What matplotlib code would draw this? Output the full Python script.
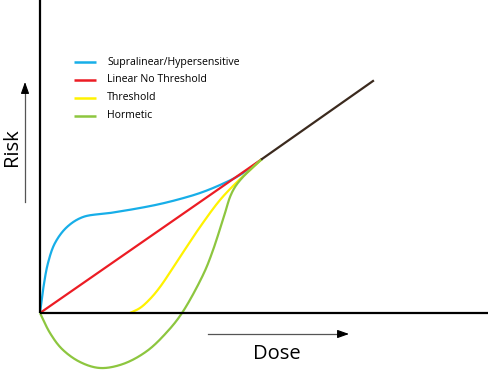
import numpy as np
import matplotlib
matplotlib.use("Agg")
import matplotlib.pyplot as plt

# Data (dose, risk), origin at the axes corner
supralinear_x = [0, 3, 8, 15, 27, 43, 70, 100, 120, 140, 160, 180, 200, 222]
supralinear_y = [0, 23, 50, 70, 86, 96, 100, 105, 109, 114, 120, 128, 138, 154]

lnt_x = [0, 222]
lnt_y = [0, 154]

threshold_x = [90, 100, 110, 120, 140, 160, 180, 197, 210, 222]
threshold_y = [0, 5, 14, 26, 56, 86, 113, 131, 143, 154]

hormetic_x = [0, 10, 22, 40, 60, 83, 107, 127, 142, 163, 172, 185, 190, 195, 202, 210, 222]
hormetic_y = [0, -20, -36, -49, -55, -51, -38, -19, 0, 38, 60, 100, 116, 126, 135, 143, 154]

common_x = [222, 333]
common_y = [154, 232]

labels = ["Supralinear/Hypersensitive", "Linear No Threshold", "Threshold", "Hormetic"]
colors = ["#17aee8", "#ec1c24", "#fff200", "#8dc63f"]


def smooth(xs, ys, n=30, alpha=0.5):
    """Centripetal Catmull-Rom rendering through the given points."""
    P = np.column_stack([np.asarray(xs, float), np.asarray(ys, float)])
    if len(P) < 3:
        return P[:, 0], P[:, 1]
    P = np.vstack([2 * P[0] - P[1], P, 2 * P[-1] - P[-2]])
    out = []
    for i in range(1, len(P) - 2):
        p0, p1, p2, p3 = P[i - 1], P[i], P[i + 1], P[i + 2]
        t0 = 0.0
        t1 = t0 + np.linalg.norm(p1 - p0) ** alpha
        t2 = t1 + np.linalg.norm(p2 - p1) ** alpha
        t3 = t2 + np.linalg.norm(p3 - p2) ** alpha
        t = np.linspace(t1, t2, n, endpoint=False)[:, None]
        A1 = (t1 - t) / (t1 - t0) * p0 + (t - t0) / (t1 - t0) * p1
        A2 = (t2 - t) / (t2 - t1) * p1 + (t - t1) / (t2 - t1) * p2
        A3 = (t3 - t) / (t3 - t2) * p2 + (t - t2) / (t3 - t2) * p3
        B1 = (t2 - t) / (t2 - t0) * A1 + (t - t0) / (t2 - t0) * A2
        B2 = (t3 - t) / (t3 - t1) * A2 + (t - t1) / (t3 - t1) * A3
        C = (t2 - t) / (t2 - t1) * B1 + (t - t1) / (t2 - t1) * B2
        out.append(C)
    out.append(P[-2][None, :])
    out = np.vstack(out)
    return out[:, 0], out[:, 1]


fig = plt.figure(figsize=(4.88, 3.70), dpi=100)
ax = fig.add_axes([0, 0, 1, 1])
ax.set_xlim(-40, 448)
ax.set_ylim(-57, 313)
ax.axis("off")

# axes lines
ax.plot([0, 0], [0, 313], color="black", lw=1.6, solid_capstyle="butt", zorder=5)
ax.plot([0, 448], [0, 0], color="black", lw=1.6, solid_capstyle="butt", zorder=5)

series = [(supralinear_x, supralinear_y), (lnt_x, lnt_y), (threshold_x, threshold_y), (hormetic_x, hormetic_y)]
for (xs, ys), c in zip(series, colors):
    sx, sy = smooth(xs, ys)
    ax.plot(sx, sy, color=c, lw=1.6, solid_capstyle="butt", zorder=3)

ax.plot(common_x, common_y, color="#3b2a1e", lw=1.6, zorder=4)

# legend
fontname = "Open Sans"
for i, (lab, c) in enumerate(zip(labels, colors)):
    yy = 313 - (62 + 18 * i)
    ax.plot([34, 56], [yy, yy], color=c, lw=1.8, solid_capstyle="butt")
    ax.text(67, yy, lab, fontsize=7.6, family=fontname, va="center", ha="left")

# axis arrows
ax.plot([-15, -15], [111, 225], color="#555555", lw=0.9)
ax.annotate("", xy=(-15, 231), xytext=(-15, 222),
            arrowprops=dict(arrowstyle="-|>,head_length=0.7,head_width=0.25", color="black",
                            lw=0.8, shrinkA=0, shrinkB=0))
ax.plot([168, 303], [-21, -21], color="#555555", lw=0.9)
ax.annotate("", xy=(309, -21), xytext=(300, -21),
            arrowprops=dict(arrowstyle="-|>,head_length=0.7,head_width=0.25", color="black",
                            lw=0.8, shrinkA=0, shrinkB=0))
ax.text(-28, 166, "Risk", rotation=90, fontsize=14.5, family=fontname, va="center", ha="center")
ax.text(237, -41, "Dose", fontsize=14.5, family=fontname, va="center", ha="center")

fig.savefig("out.png", dpi=100)
